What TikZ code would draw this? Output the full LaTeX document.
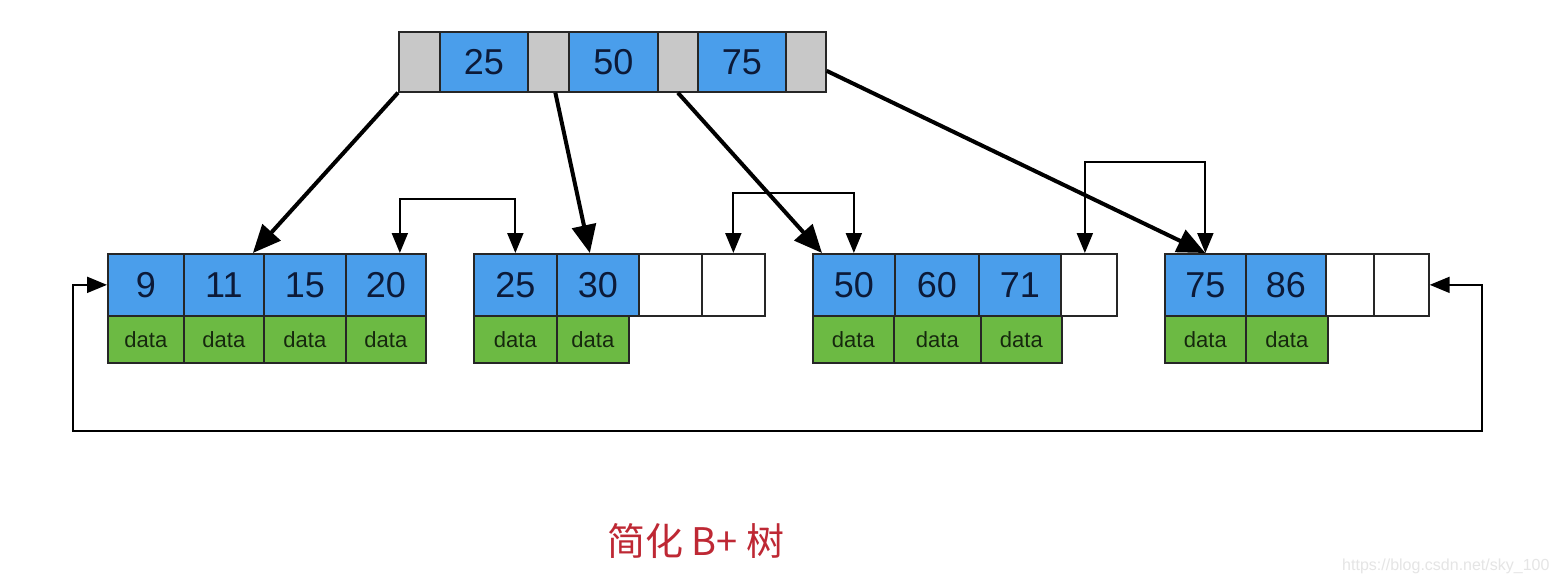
\documentclass[tikz,border=0pt]{standalone}
\usepackage{fontspec}
\setmainfont{Liberation Sans}
\newfontfamily\cjk{Noto Sans CJK SC}
\usetikzlibrary{arrows.meta}
\definecolor{kblue}{RGB}{74,158,235}
\definecolor{kgreen}{RGB}{108,186,67}
\definecolor{kgray}{RGB}{200,200,200}
\definecolor{numc}{RGB}{12,26,56}
\definecolor{datac}{RGB}{22,40,14}
\definecolor{titlered}{RGB}{190,40,52}
\begin{document}
\begin{tikzpicture}[x=1pt,y=-1pt,
  cellbase/.style={draw=black!85, line width=1.7pt, inner sep=0pt, anchor=north west},
  keycell/.style={cellbase, fill=kblue, minimum height=#1, font=\fontsize{36}{36}\selectfont, text=numc},
  keycell/.default=62pt,
  ptrcell/.style={cellbase, fill=kgray, minimum height=60pt},
  emptycell/.style={cellbase, fill=white, minimum height=62pt},
  datacell/.style={cellbase, fill=kgreen, minimum height=47pt, font=\fontsize{22}{22}\selectfont, text=datac},
  bigarrow/.style={line width=4pt, -{Triangle[length=28pt,width=24pt]}},
  linkarrow/.style={line width=2pt, {Triangle[length=20pt,width=16pt]}-{Triangle[length=20pt,width=16pt]}}
]
\useasboundingbox[fill=white] (0,0) rectangle (1562,582);

% root node
\node[ptrcell, minimum width=41pt] (r0) at (398,31) {};
\node[keycell=60pt, minimum width=88pt] (r1) at (439,31) {25};
\node[ptrcell, minimum width=41pt] (r2) at (527,31) {};
\node[keycell=60pt, minimum width=89pt] (r3) at (568,31) {50};
\node[ptrcell, minimum width=40pt] (r4) at (657,31) {};
\node[keycell=60pt, minimum width=88pt] (r5) at (697,31) {75};
\node[ptrcell, minimum width=40pt] (r6) at (785,31) {};

% leaf 1
\node[keycell, minimum width=76pt] (a1) at (107,253) {9};
\node[keycell, minimum width=80pt] (a2) at (183,253) {11};
\node[keycell, minimum width=82pt] (a3) at (263,253) {15};
\node[keycell, minimum width=80pt] (a4) at (345,253) {20};
\node[datacell, minimum width=76pt] (ad1) at (107,315) {data};
\node[datacell, minimum width=80pt] (ad2) at (183,315) {data};
\node[datacell, minimum width=82pt] (ad3) at (263,315) {data};
\node[datacell, minimum width=80pt] (ad4) at (345,315) {data};

% leaf 2
\node[keycell, minimum width=83pt] (b1) at (473,253) {25};
\node[keycell, minimum width=82pt] (b2) at (556,253) {30};
\node[emptycell, minimum width=63pt] (b3) at (638,253) {};
\node[emptycell, minimum width=63pt] (b4) at (701,253) {};
\node[datacell, minimum width=83pt] (bd1) at (473,315) {data};
\node[datacell, minimum width=72pt] (bd2) at (556,315) {data};

% leaf 3
\node[keycell, minimum width=82pt] (c1) at (812,253) {50};
\node[keycell, minimum width=84pt] (c2) at (894,253) {60};
\node[keycell, minimum width=82pt] (c3) at (978,253) {71};
\node[emptycell, minimum width=56pt] (c4) at (1060,253) {};
\node[datacell, minimum width=81pt] (cd1) at (812,315) {data};
\node[datacell, minimum width=87pt] (cd2) at (893,315) {data};
\node[datacell, minimum width=81pt] (cd3) at (980,315) {data};

% leaf 4
\node[keycell, minimum width=81pt] (d1) at (1164,253) {75};
\node[keycell, minimum width=80pt] (d2) at (1245,253) {86};
\node[emptycell, minimum width=48pt] (d3) at (1325,253) {};
\node[emptycell, minimum width=55pt] (d4) at (1373,253) {};
\node[datacell, minimum width=81pt] (dd1) at (1164,315) {data};
\node[datacell, minimum width=82pt] (dd2) at (1245,315) {data};

% tree pointers
\draw[bigarrow] (r0.south west) -- ([xshift=29pt]a2.north);
\draw[bigarrow] ([xshift=7pt]r2.south) -- ([xshift=-8pt]b2.north);
\draw[bigarrow] (r4.south) -- ([xshift=10pt]c1.north west);
\draw[bigarrow] ([yshift=-9pt]r6.east) -- (d1.north);

% sibling links
\draw[linkarrow] ([xshift=14pt]a4.north) -- ++(0,-54) -| (b1.north);
\draw[linkarrow] (b4.north) -- ++(0,-60) -| (c1.north);
\draw[linkarrow] ([xshift=-4pt]c4.north) -- ++(0,-91) -| (d1.north);

% loop link
\coordinate (loopL) at (73,431);
\coordinate (loopR) at (1482,431);
\draw[linkarrow] (a1.west) -| (loopL) -- (loopR) |- (d4.east);

% caption
\node[font=\cjk\fontsize{38}{38}\selectfont, text=titlered] (title) at (696,541) {简化 B+ 树};
\node[font=\fontsize{16}{16}\selectfont, text=black!10, anchor=east] (wm) at (1553,566) {https://blog.csdn.net/sky\_100};
\end{tikzpicture}
\end{document}
